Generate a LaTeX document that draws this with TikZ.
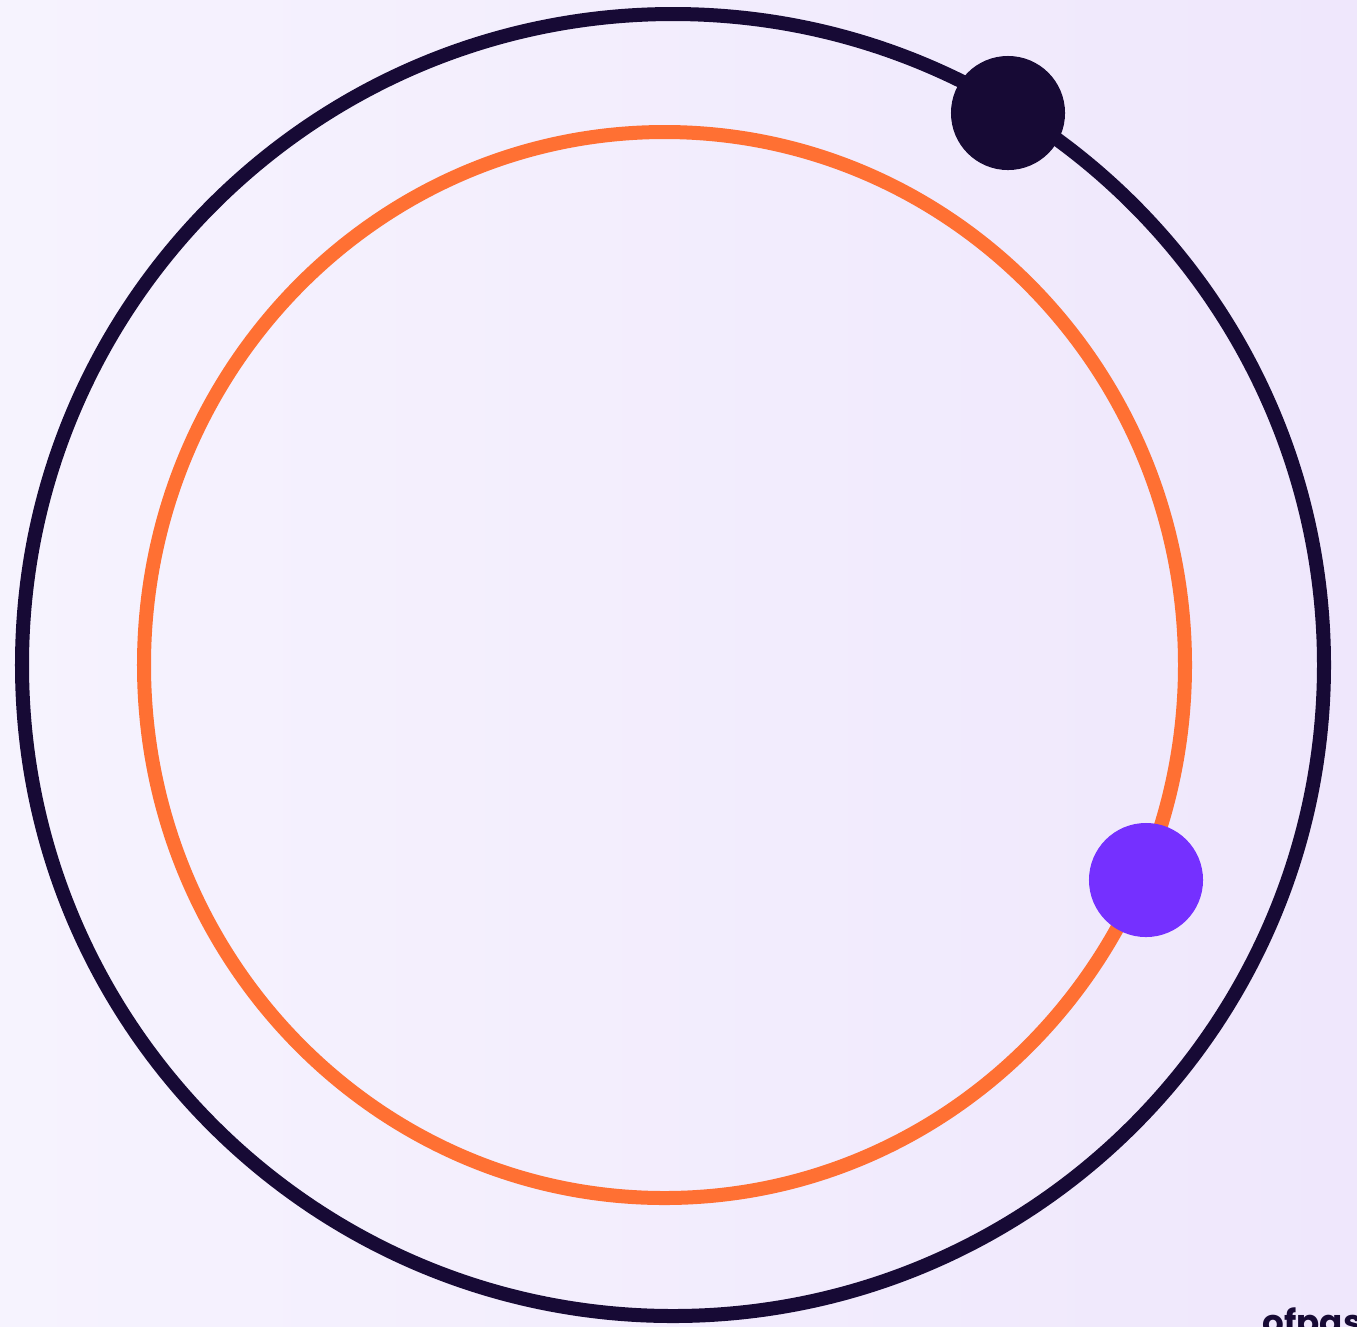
\documentclass[tikz,border=0pt]{standalone}
\usepackage{fontspec}
\newfontfamily\brandfont{Poppins}
\definecolor{ink}{HTML}{170A35}
\definecolor{track}{HTML}{FF7033}
\definecolor{violet}{HTML}{7530FF}
\definecolor{bgleft}{HTML}{F6F3FE}
\definecolor{bgright}{HTML}{EFE7FC}
\tikzset{
  orbit/.style={line width=0.14cm},
  planet/.style={circle, minimum size=1.14cm, inner sep=0pt}
}
\begin{document}
\begin{tikzpicture}[x=0.01cm, y=-0.01cm]

    % Background
    \useasboundingbox (0,0) rectangle (1357,1326);
    \clip (0,0) rectangle (1357,1326);
    \shade[left color=bgleft, right color=bgright] (0,0) rectangle (1357,1326);

    % Orbits
    \draw[orbit, ink] (673,665) circle (651);
    \draw[orbit, track] (664.5,665) ellipse (520.5 and 533);

    % Planets
    \node[planet, fill=ink] (outer) at (1008,113) {};
    \node[planet, fill=violet] (inner) at (1146,880) {};

    % Mark
    \node[anchor=base west, inner sep=0pt, text=ink,
          font=\brandfont\bfseries\fontsize{9.7}{12}\selectfont] (mark) at (1262,1334) {ofpas};

\end{tikzpicture}
\end{document}
